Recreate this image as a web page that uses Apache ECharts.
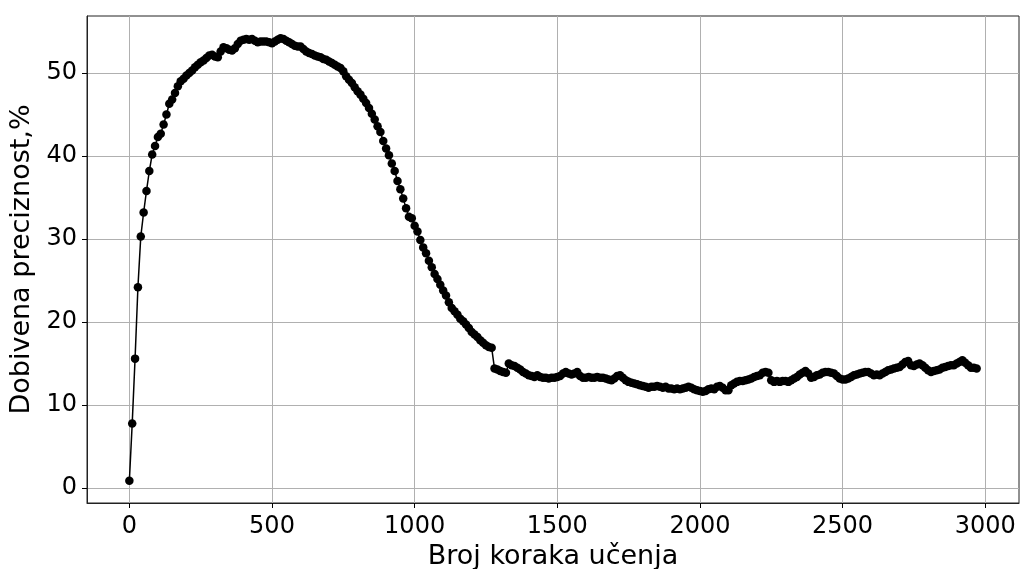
<!DOCTYPE html>
<html>
<head>
<meta charset="utf-8">
<script src="https://cdn.jsdelivr.net/npm/echarts@6/dist/echarts.min.js"></script>
<style>html,body{margin:0;padding:0;background:#fff}#c{width:1025px;height:569px}</style>
</head>
<body>
<div id="c"></div>
<script>
// training step spacing (x sampled every 10 steps, starting at 0)
const stepStart = 0;
const stepSize = 10;
// accuracy values (%), in order of step
const accRise = [0.9, 7.8, 15.6, 24.2, 30.3, 33.2, 35.8, 38.2, 40.2, 41.2,
  42.3, 42.7, 43.8, 45.0, 46.3, 46.8, 47.6, 48.4, 49.0, 49.3,
  49.7, 50.0, 50.3, 50.7, 51.0, 51.3, 51.5, 51.8, 52.1, 52.2,
  52.0, 51.9, 52.6, 53.1, 53.0, 52.8, 52.7, 53.0, 53.5, 53.9];
const accPlateau = [54.0, 54.1, 54.0, 54.1, 53.9, 53.7, 53.8, 53.8, 53.8, 53.7,
  53.6, 53.8, 54.0, 54.2, 54.1, 53.9, 53.7, 53.5, 53.3, 53.2,
  53.2, 52.9, 52.6, 52.4, 52.3, 52.1, 52.0, 51.9, 51.7, 51.6,
  51.4, 51.2, 51.0, 50.8, 50.6, 50.2, 49.6, 49.2, 48.8, 48.3];
const accFall = [47.8, 47.4, 46.9, 46.4, 45.8, 45.1, 44.4, 43.6, 42.9, 41.8,
  40.9, 40.1, 39.1, 38.2, 37.0, 36.0, 34.9, 33.7, 32.7, 32.5,
  31.6, 30.9, 29.9, 29.0, 28.3, 27.4, 26.6, 25.8, 25.2, 24.5,
  23.8, 23.2, 22.4, 21.7, 21.3, 20.9, 20.4, 20.1, 19.7, 19.3,
  18.8, 18.5, 18.2, 17.8, 17.5, 17.2, 17.0, 16.9];
const accLow1 = [14.4, 14.3, 14.1, 14.0, 13.9, 15.0, 14.8, 14.7, 14.5, 14.3,
  14.0, 13.8, 13.6, 13.5, 13.4, 13.6, 13.4, 13.3, 13.3, 13.2,
  13.3, 13.3, 13.4, 13.5, 13.8, 14.0, 13.8, 13.7, 13.8, 14.0,
  13.5, 13.3, 13.3, 13.4, 13.3, 13.3, 13.4, 13.3, 13.3, 13.2,
  13.1, 13.0, 13.2, 13.5, 13.6, 13.3, 13.0, 12.8, 12.7, 12.6,
  12.5, 12.4, 12.3, 12.2, 12.1, 12.2, 12.2, 12.3, 12.2, 12.1,
  12.2, 12.0, 12.0, 11.9, 12.0, 11.9, 12.0, 12.1, 12.2, 12.1,
  11.9, 11.8];
const accLow2 = [11.7, 11.6, 11.7, 11.9, 12.0, 11.9, 12.2, 12.3, 12.1, 11.8,
  11.8, 12.4, 12.6, 12.8, 12.9, 12.9, 13.0, 13.1, 13.2, 13.4,
  13.5, 13.6, 13.9, 14.0, 13.9, 13.0, 12.8, 12.9, 12.8, 12.9,
  12.9, 12.8, 13.0, 13.2, 13.4, 13.7, 13.9, 14.1, 13.8, 13.3,
  13.4, 13.6, 13.7, 13.9, 14.0, 14.0, 13.9, 13.8, 13.5, 13.2];
const accLow3 = [13.1, 13.1, 13.2, 13.4, 13.6, 13.7, 13.8, 13.9, 14.0, 14.0,
  13.8, 13.6, 13.7, 13.6, 13.8, 14.0, 14.2, 14.3, 14.4, 14.5,
  14.6, 14.9, 15.2, 15.3, 14.8, 14.7, 14.9, 15.0, 14.8, 14.5,
  14.2, 14.0, 14.1, 14.2, 14.3, 14.5, 14.6, 14.7, 14.8, 14.8,
  15.0, 15.2, 15.4, 15.1, 14.8, 14.5, 14.5, 14.4];
const xTicks = [0, 500, 1000, 1500, 2000, 2500, 3000];
const yTicks = [0, 10, 20, 30, 40, 50];
const xTitle = 'Broj koraka učenja';
const yTitle = 'Dobivena preciznost,%';

const acc = [].concat(accRise, accPlateau, accFall, accLow1, accLow2, accLow3);
const points = acc.map((v, i) => [stepStart + i * stepSize, v]);

const FONT = 'DejaVu Sans';
const chart = echarts.init(document.getElementById('c'), null, {renderer: 'canvas'});
chart.setOption({
  animation: false,
  backgroundColor: '#fff',
  grid: {left: 87, right: 6, top: 16, bottom: 66, containLabel: false, outerBoundsMode: 'none',
    show: true, borderColor: '#222', borderWidth: 1, backgroundColor: 'transparent'},
  xAxis: {
    type: 'value', min: -148.5, max: 3118.5,
    name: xTitle, nameLocation: 'middle', nameGap: 38,
    nameTextStyle: {fontFamily: FONT, fontSize: 27, color: '#000'},
    axisLine: {show: true, onZero: false, lineStyle: {color: '#222', width: 1}},
    axisTick: {show: true, length: 5, lineStyle: {color: '#000'}, customValues: xTicks},
    axisLabel: {fontFamily: FONT, fontSize: 24, color: '#000', margin: 12, customValues: xTicks, formatter: v => String(v)},
    splitLine: {show: true, lineStyle: {color: '#b0b0b0', width: 1}}
  },
  yAxis: {
    type: 'value', min: -1.79, max: 56.87,
    name: yTitle, nameLocation: 'middle', nameGap: 52,
    nameTextStyle: {fontFamily: FONT, fontSize: 27, color: '#000'},
    axisLine: {show: true, onZero: false, lineStyle: {color: '#222', width: 1}},
    axisTick: {show: true, length: 5, lineStyle: {color: '#000'}, customValues: yTicks},
    axisLabel: {fontFamily: FONT, fontSize: 24, color: '#000', margin: 10, customValues: yTicks, formatter: v => String(v)},
    splitLine: {show: true, lineStyle: {color: '#b0b0b0', width: 1}}
  },
  series: [{
    type: 'line', data: points, showAllSymbol: true,
    symbol: 'circle', symbolSize: 8.5,
    itemStyle: {color: '#000'},
    lineStyle: {color: '#000', width: 1.5},
    emphasis: {disabled: true}
  }]
});
</script>
</body>
</html>
